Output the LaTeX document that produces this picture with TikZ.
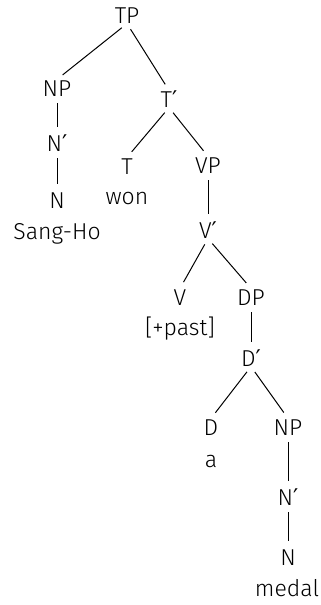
\documentclass[tikz,border=0pt]{standalone}
\usepackage{fontspec}
\setmainfont{Fira Sans}[UprightFont=* Light]
\newfontfamily\primefont{DejaVu Sans}
\newcommand{\barmark}{{\primefont ′}}
\usetikzlibrary{positioning}

\tikzset{
  lbl/.style={inner sep=0pt, text height=8.2pt, text depth=0pt, font=\fontsize{11.5}{13}\selectfont},
  edge/.style={black, line width=0.5pt, shorten <=3.3pt, shorten >=3.6pt}
}

\begin{document}
\begin{tikzpicture}[x=0.5pt,y=-0.5pt]

\useasboundingbox (0,0) rectangle (321,605);

% upper part
\node[lbl] (tp) at (127,15) {TP};
\node[lbl] (np) at (57,88) {NP};
\node[lbl] (tbar) at (169,99) {T\barmark};
\node[lbl] (nbar) at (57,143) {N\barmark};
\node[lbl] (n) at (57,200) {N};
\node[lbl] (sangho) at (57,231) {Sang-Ho};
\node[lbl] (t) at (127,166) {T};
\node[lbl] (won) at (127,196) {won};
\node[lbl] (vp) at (208,165) {VP};
\node[lbl] (vbar) at (208,230) {V\barmark};

% lower part
\node[lbl] (v) at (180,297) {V};
\node[lbl] (past) at (180,327) {[+past]};
\node[lbl] (dp) at (251,297) {DP};
\node[lbl] (dbar) at (251,358) {D\barmark};
\node[lbl] (d) at (211,427) {D};
\node[lbl] (a) at (211,459) {a};
\node[lbl] (npb) at (288,427) {NP};
\node[lbl] (nbarb) at (288,497) {N\barmark};
\node[lbl] (nb) at (288,557) {N};
\node[lbl] (medal) at (287,588) {medal};

\draw[edge] (tp.south) -- (np.north);
\draw[edge] (tp.south) -- (tbar.north);
\draw[edge] (np.south) -- (nbar.north);
\draw[edge] (nbar.south) -- (n.north);
\draw[edge] (tbar.south) -- (t.north);
\draw[edge] (tbar.south) -- (vp.north);
\draw[edge] (vp.south) -- (vbar.north);
\draw[edge] (vbar.south) -- (v.north);
\draw[edge] (vbar.south) -- (dp.north);
\draw[edge] (dp.south) -- (dbar.north);
\draw[edge] (dbar.south) -- (d.north);
\draw[edge] (dbar.south) -- (npb.north);
\draw[edge] (npb.south) -- (nbarb.north);
\draw[edge] (nbarb.south) -- (nb.north);

\end{tikzpicture}
\end{document}
